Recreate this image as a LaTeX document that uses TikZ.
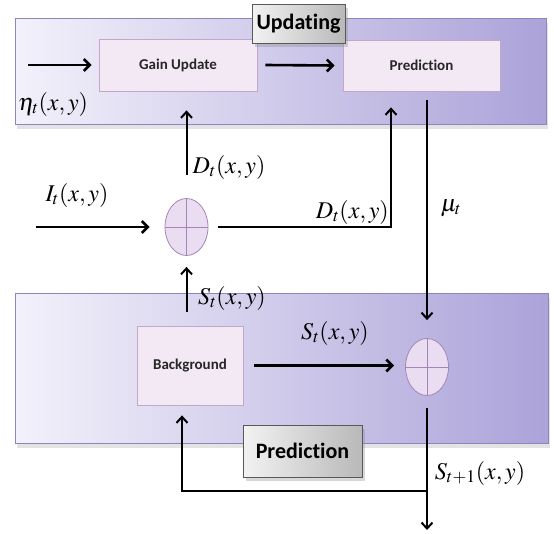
\documentclass[tikz,border=0pt]{standalone}
\usepackage{mathptmx}
\usepackage{fontspec}
\setsansfont{Carlito}[Ligatures=NoCommon]
\usetikzlibrary{arrows.meta,shapes.geometric,shadows,calc}
\definecolor{panelL}{HTML}{F3F1FB}
\definecolor{panelR}{HTML}{ABA3D9}
\definecolor{panelB}{HTML}{8C86BE}
\definecolor{boxF}{HTML}{F3E9F5}
\definecolor{boxB}{HTML}{C4A6CA}
\definecolor{sumF}{HTML}{EADDF2}
\definecolor{sumB}{HTML}{A585B5}
\begin{document}
\begin{tikzpicture}[x=1pt,y=-1pt,
  panel/.style={draw=panelB, line width=0.8pt, left color=panelL, right color=panelR,
    drop shadow={opacity=0.22, shadow xshift=2pt, shadow yshift=-5pt}, inner sep=0pt},
  blockbox/.style={draw=boxB, line width=0.8pt, fill=boxF, inner sep=0pt,
    font=\sffamily\bfseries\fontsize{15}{17}\selectfont, text=black!85},
  tagbox/.style={draw=black!65, line width=0.8pt, left color=gray!10, right color=gray!55,
    drop shadow={opacity=0.3, shadow xshift=3pt, shadow yshift=-4pt}, inner sep=0pt,
    font=\sffamily\bfseries\fontsize{22}{24}\selectfont},
  sumnode/.style={ellipse, draw=sumB, fill=sumF, line width=0.8pt, minimum width=43pt,
    minimum height=57pt, inner sep=0pt,
    path picture={\draw[sumB, line width=0.8pt]
      (path picture bounding box.north) -- (path picture bounding box.south)
      (path picture bounding box.west) -- (path picture bounding box.east);}},
  heavy/.style={line width=2.6pt, -{Straight Barb[length=6pt,width=12pt]}},
  flow/.style={line width=2pt, -{Straight Barb[length=6pt,width=11pt]}},
  mlbl/.style={font=\fontsize{24}{26}\selectfont, inner sep=0pt}]
\useasboundingbox (0,0) rectangle (554,533);
\fill[white] (0,0) rectangle (554,533);

% panels
\node[panel, minimum width=531pt, minimum height=106pt] (toppanel) at (280.5,71) {};
\node[panel, minimum width=533pt, minimum height=150pt] (botpanel) at (281.5,368) {};

% blocks
\node[blockbox, minimum width=158pt, minimum height=52pt] (gain) at (178,65) {Gain Update};
\node[blockbox, minimum width=157pt, minimum height=51pt] (pred) at (421.5,65.5) {Prediction};
\node[blockbox, minimum width=106pt, minimum height=79pt] (bg) at (190,365.5) {Background};
\node[tagbox, minimum width=93pt, minimum height=39pt] (updtag) at (298.5,23.5) {Updating};
\node[tagbox, minimum width=119pt, minimum height=52pt] (predtag) at (302.5,451) {Prediction};

% summation nodes
\node[sumnode] (sum1) at (186.5,227) {};
\node[sumnode] (sum2) at (427,367) {};

% free ends
\coordinate (etaIn) at (28,65);
\coordinate (iIn) at (36,227);
\coordinate (dCorner) at (391,227);
\coordinate (fb) at (427,491);
\coordinate (out) at (427,530);

% connectors
\draw[heavy] (etaIn) -- ([xshift=-7pt]gain.west);
\draw[heavy] ([xshift=8pt]gain.east) -- ([xshift=-8pt]pred.west);
\draw[heavy] (iIn) -- ([xshift=-15pt]sum1.west);
\draw[flow] ([yshift=23pt]sum1.north) -- ([yshift=-19pt]gain.south -| sum1.north);
\draw[flow] ([xshift=10pt]sum1.east) -- (dCorner) -- ([yshift=-16pt]pred.south -| dCorner);
\draw[flow] ([yshift=-9pt]pred.south -| sum2.north) -- ([yshift=18pt]sum2.north);
\draw[flow] ([yshift=14pt]bg.north -| sum1.south) -- ([yshift=-11pt]sum1.south);
\draw[heavy] ([xshift=11pt]bg.east) -- ([xshift=-11pt]sum2.west |- bg.east);
\draw[flow] ([yshift=-12pt]sum2.south) -- (out);
\draw[flow] (fb) -| ([xshift=-8pt,yshift=-10pt]bg.south);

% labels
\node[mlbl] (etaLbl) at (53,104) {$\eta_t(x,y)$};
\node[mlbl] (iLbl) at (77,195) {$I_t(x,y)$};
\node[mlbl] (d1Lbl) at (229,167) {$D_t(x,y)$};
\node[mlbl, anchor=east] (d2Lbl) at (389,212) {$D_t(x,y)$};
\node[mlbl] (muLbl) at (451,208) {$\mu_t$};
\node[mlbl] (s1Lbl) at (232,298) {$S_t(x,y)$};
\node[mlbl] (s2Lbl) at (335,333) {$S_t(x,y)$};
\node[mlbl] (s3Lbl) at (480,473) {$S_{t+1}(x,y)$};
\end{tikzpicture}
\end{document}
